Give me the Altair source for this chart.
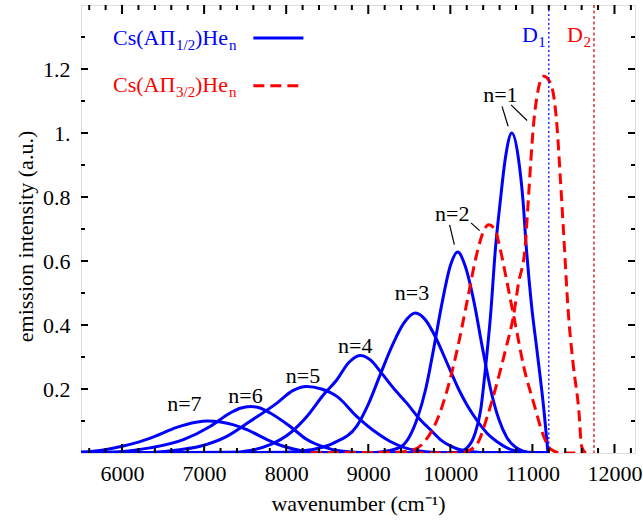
import altair as alt
import pandas as pd

FONT = "Liberation Serif"
W, H = 554, 448
BLUE = "#0000ff"
RED = "#ff0000"

# ---- axis ticks ----
x_major = [6000, 7000, 8000, 9000, 10000, 11000, 12000]
x_minor = [5600, 5800, 6200, 6400, 6600, 6800, 7200, 7400, 7600, 7800, 8200, 8400,
           8600, 8800, 9200, 9400, 9600, 9800, 10200, 10400, 10600, 10800, 11200,
           11400, 11600, 11800, 12200]
y_major = [0.2, 0.4, 0.6, 0.8, 1.0, 1.2]
y_minor = [0.1, 0.3, 0.5, 0.7, 0.9, 1.1, 1.3]

# ---- Cs(AΠ1/2)He_n curves (blue, solid) ----
b1_x = [5500, 10000, 10100, 10200, 10300, 10370, 10430, 10490, 10550, 10610, 10670, 10750,
        10830, 10885, 10925, 10990, 11056, 11140, 11190]
b1_y = [0, 0, 0.003, 0.015, 0.06, 0.135, 0.27, 0.43, 0.64, 0.79, 0.92, 1.0,
        0.92, 0.79, 0.645, 0.46, 0.32, 0.135, 0.0]
b2_x = [5500, 9000, 9200, 9400, 9500, 9600, 9700, 9800, 9900, 10000, 10090, 10180, 10290,
        10390, 10490, 10590, 10690, 10790, 10900, 11000, 11190]
b2_y = [0, 0.001, 0.005, 0.02, 0.05, 0.11, 0.20, 0.33, 0.47, 0.585, 0.628, 0.585, 0.47,
        0.33, 0.20, 0.106, 0.048, 0.019, 0.005, 0, 0]
b3_x = [5500, 8000, 8300, 8577, 8862, 9000, 9146, 9300, 9431, 9573, 9700, 9800, 9979,
        10100, 10203, 10330, 10447, 10570, 10691, 10900, 11190]
b3_y = [0, 0.002, 0.010, 0.031, 0.085, 0.152, 0.245, 0.340, 0.405, 0.4375, 0.415, 0.372, 0.27,
        0.20, 0.15, 0.10, 0.062, 0.035, 0.016, 0.003, 0]
b4_x = [5500, 7300, 7561, 7805, 8049, 8252, 8455, 8618, 8760, 8900, 9030, 9146, 9300, 9472,
        9634, 9756, 9878, 10000, 10122, 10400, 11190]
b4_y = [0, 0.002, 0.008, 0.026, 0.0625, 0.114, 0.182, 0.229, 0.282, 0.305, 0.290, 0.255, 0.205,
        0.155, 0.104, 0.073, 0.042, 0.022, 0.010, 0.001, 0]
b5_x = [5500, 6300, 6626, 6951, 7277, 7561, 7887, 8080, 8250, 8430, 8618, 8862, 9106, 9268,
        9450, 9700, 10000, 11190]
b5_y = [0, 0.001, 0.008, 0.021, 0.052, 0.099, 0.156, 0.195, 0.208, 0.200, 0.177, 0.114, 0.0625,
        0.036, 0.016, 0.004, 0, 0]
b6_x = [5500, 5900, 6341, 6748, 7073, 7317, 7440, 7570, 7690, 7805, 8049, 8252, 8455, 8618,
        9000, 9300, 11190]
b6_y = [0, 0.003, 0.016, 0.042, 0.083, 0.125, 0.140, 0.145, 0.140, 0.125, 0.083, 0.042, 0.019,
        0.008, 0.001, 0, 0]
b7_x = [5500, 5750, 6016, 6200, 6400, 6667, 6900, 7040, 7200, 7360, 7521, 7765, 7967, 8171,
        8400, 8700, 11190]
b7_y = [0.003, 0.009, 0.022, 0.034, 0.052, 0.080, 0.096, 0.100, 0.097, 0.088, 0.073, 0.042,
        0.021, 0.008, 0.002, 0, 0]

# ---- Cs(AΠ3/2)He_n curves (red, dashed) ----
r1_x = [8300, 10100, 10200, 10330, 10450, 10570, 10670, 10770, 10830, 10910, 10950, 10980,
        11015, 11060, 11100, 11140, 11200, 11260, 11300, 11340, 11375, 11440, 11500, 11565,
        11600, 11650]
r1_y = [0, 0, 0.005, 0.03, 0.114, 0.22, 0.32, 0.43, 0.53, 0.64, 0.79, 0.91,
        1.03, 1.12, 1.165, 1.177, 1.165, 1.115, 1.02, 0.86, 0.71, 0.43, 0.27, 0.135,
        0.02, 0]
r2_x = [8300, 9300, 9550, 9700, 9850, 9965, 10090, 10209, 10325, 10400, 10467, 10540, 10610,
        10670, 10732, 10813, 10894, 11016, 11138, 11220, 11350, 11650]
r2_y = [0, 0.002, 0.01, 0.04, 0.11, 0.2, 0.33, 0.48, 0.625, 0.69, 0.713, 0.70, 0.635,
        0.56, 0.48, 0.375, 0.27, 0.156, 0.052, 0.0125, 0, 0]

# ---- annotations ----
n_labels = ["n=1", "n=2", "n=3", "n=4", "n=5", "n=6", "n=7"]
n_label_x = [10610, 10024, 9533, 8841, 8204, 7504, 6760]
n_label_y = [1.096, 0.726, 0.479, 0.314, 0.219, 0.156, 0.132]
ptr_x = [10630, 10740, 9991, 10252]
ptr_y = [1.083, 1.088, 0.713, 0.719]
ptr_x2 = [10704, 10935, 10049, 10357]
ptr_y2 = [1.021, 1.039, 0.651, 0.695]
d_lines = [11200, 11750]
d_label_y = 1.285
legend_text_x = 5890
legend_text_y = [1.276, 1.129]
legend_line_x = [7600, 8210]
legend_line_y = [1.297, 1.148]

xscale = alt.Scale(domain=[5500, 12250], nice=False, zero=False)
yscale = alt.Scale(domain=[0, 1.4], nice=False, zero=False)
XT = "wavenumber (cm\u207b\u00b9)"
YT = "emission intensity (a.u.)"

x_axis = alt.Axis(values=x_major, format="d", labelFont=FONT, labelFontSize=22, labelColor="black",
                  ticks=False, tickSize=0, domain=False, grid=False, labelPadding=10,
                  labelFlush=False, labelOverlap=False, titleFont=FONT, titleFontSize=22,
                  titleFontWeight="normal", titleColor="black", titleY=57,
                  titleBaseline="alphabetic")
y_axis = alt.Axis(values=y_major,
                  labelExpr="datum.value == 1 ? '1.' : format(datum.value, '.1f')",
                  labelFont=FONT, labelFontSize=22, labelColor="black", ticks=False, tickSize=0,
                  domain=False, grid=False, labelPadding=11, labelFlush=False, labelOverlap=False,
                  titleFont=FONT, titleFontSize=22, titleFontWeight="normal", titleColor="black",
                  titleX=-49, titleY=231, titleAngle=270, titleBaseline="alphabetic",
                  titleAlign="center")


def X(field="x"):
    return alt.X(f"{field}:Q", scale=xscale, axis=x_axis, title=XT)


def Y(field="y"):
    return alt.Y(f"{field}:Q", scale=yscale, axis=y_axis, title=YT)


def curves(names, xs, ys):
    return pd.concat([pd.DataFrame({"x": a, "y": b, "curve": n}) for n, a, b in zip(names, xs, ys)])


blue_df = curves(["b1", "b2", "b3", "b4", "b5", "b6", "b7"],
                 [b1_x, b2_x, b3_x, b4_x, b5_x, b6_x, b7_x],
                 [b1_y, b2_y, b3_y, b4_y, b5_y, b6_y, b7_y])
red_df = curves(["r1", "r2"], [r1_x, r2_x], [r1_y, r2_y])

blue = alt.Chart(blue_df).mark_line(color=BLUE, strokeWidth=3, interpolate="monotone", clip=True).encode(
    x=X(), y=Y(), detail="curve:N")
red = alt.Chart(red_df).mark_line(color=RED, strokeWidth=3, strokeDash=[11, 6], interpolate="monotone",
                                  clip=True).encode(x=X(), y=Y(), detail="curve:N")


# frame ticks (inward)
def xticks(vals, length):
    d = pd.DataFrame({"x": vals})
    bot = alt.Chart(d).mark_rule(color="black", strokeWidth=2).encode(
        x=X(), y=alt.value(H), y2=alt.value(H - length))
    top = alt.Chart(d).mark_rule(color="black", strokeWidth=2).encode(
        x=X(), y=alt.value(0), y2=alt.value(length))
    return [bot, top]


def yticks(vals, length):
    d = pd.DataFrame({"y": vals})
    left = alt.Chart(d).mark_rule(color="black", strokeWidth=2).encode(
        y=Y(), x=alt.value(0), x2=alt.value(length))
    right = alt.Chart(d).mark_rule(color="black", strokeWidth=2).encode(
        y=Y(), x=alt.value(W), x2=alt.value(W - length))
    return [left, right]


tick_layers = xticks(x_major, 9) + xticks(x_minor, 5) + yticks(y_major, 7) + yticks(y_minor, 4)

# D1 / D2 lines
d1 = alt.Chart(pd.DataFrame({"x": [d_lines[0]]})).mark_rule(color=BLUE, strokeWidth=1.3, strokeDash=[2, 2.5]).encode(
    x=X(), y=alt.value(0), y2=alt.value(H))
d2 = alt.Chart(pd.DataFrame({"x": [d_lines[1]]})).mark_rule(color="#cc1111", strokeWidth=1.3, strokeDash=[3, 2.5]).encode(
    x=X(), y=alt.value(0), y2=alt.value(H))


def text_layer(xv, yv, txt, color, size=22, align="left", dx=0, dy=0):
    d = pd.DataFrame({"x": [xv], "y": [yv], "t": [txt]})
    return alt.Chart(d).mark_text(font=FONT, fontSize=size, color=color, align=align,
                                  baseline="alphabetic", dx=dx, dy=dy).encode(
        x=X(), y=Y(), text="t:N")


d_labels = [
    text_layer(d_lines[0], d_label_y, "D", BLUE, align="right", dx=-11),
    text_layer(d_lines[0], d_label_y, "1", BLUE, size=15, align="right", dx=-3, dy=5),
    text_layer(d_lines[1], d_label_y, "D", RED, align="right", dx=-11),
    text_layer(d_lines[1], d_label_y, "2", RED, size=15, align="right", dx=-3, dy=5),
]

legend_layers = []
for (yv, sub, col) in [(legend_text_y[0], "1/2", BLUE), (legend_text_y[1], "3/2", RED)]:
    legend_layers += [
        text_layer(legend_text_x, yv, "Cs(A\u03a0", col),
        text_layer(legend_text_x, yv, sub, col, size=15, dx=63, dy=5),
        text_layer(legend_text_x, yv, ")He", col, dx=82),
        text_layer(legend_text_x, yv, "n", col, size=15, dx=116, dy=5),
    ]

leg_line_b = alt.Chart(pd.DataFrame({"x": [legend_line_x[0]], "x2": [legend_line_x[1]], "y": [legend_line_y[0]]})).mark_rule(
    color=BLUE, strokeWidth=3).encode(x=X(), x2="x2:Q", y=Y())
leg_line_r = alt.Chart(pd.DataFrame({"x": [legend_line_x[0]], "x2": [legend_line_x[1]], "y": [legend_line_y[1]]})).mark_rule(
    color=RED, strokeWidth=3, strokeDash=[11, 6]).encode(x=X(), x2="x2:Q", y=Y())

n_text = alt.Chart(pd.DataFrame({"x": n_label_x, "y": n_label_y, "t": n_labels})).mark_text(
    font=FONT, fontSize=22, color="black", align="center", baseline="alphabetic").encode(
    x=X(), y=Y(), text="t:N")

pointers = alt.Chart(pd.DataFrame({"x": ptr_x, "y": ptr_y, "x2": ptr_x2, "y2": ptr_y2})).mark_rule(
    color="black", strokeWidth=1.2).encode(x=X(), y=Y(), x2="x2:Q", y2="y2:Q")

chart = alt.layer(
    blue, red, d1, d2, *tick_layers, *d_labels, *legend_layers, leg_line_b, leg_line_r, n_text, pointers
).properties(
    width=W, height=H,
    padding={"left": 81, "top": 5, "right": 8, "bottom": 68},
    autosize=alt.AutoSizeParams(type="none"),
).configure_view(stroke="black", strokeWidth=2.8).configure(background="white")

chart.save("out.html", embed_options={"renderer": "svg", "actions": False})
